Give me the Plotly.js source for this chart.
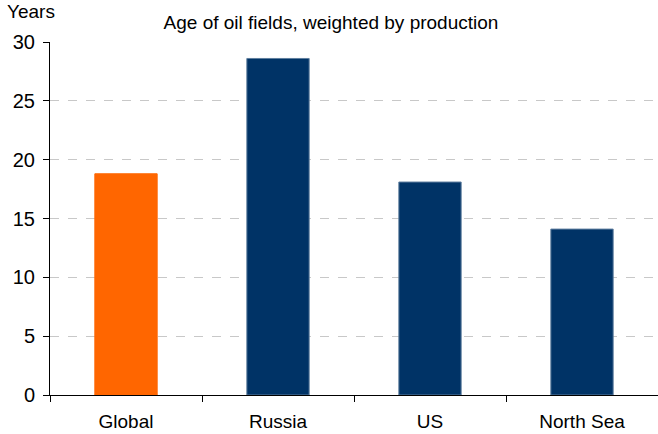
<!DOCTYPE html>
<html>
<head>
<meta charset="utf-8">
<script src="https://cdn.plot.ly/plotly-3.0.1.min.js"></script>
<style>
  html, body { margin: 0; padding: 0; background: #fff; }
  #chart { width: 658px; height: 434px; }
</style>
</head>
<body>
<div id="chart"></div>
<script>
// Production-weighted age of oil fields by region (years)
const regions = ["Global", "Russia", "US", "North Sea"];
const ageYears = [18.8, 28.6, 18.1, 14.1];
const barColors = ["#FF6600", "#003366", "#003366", "#003366"];
const edgeColors = ["#FF6600", "#5F7F9F", "#5F7F9F", "#5F7F9F"];
const yTicks = [0, 5, 10, 15, 20, 25, 30];

const font = "Liberation Sans, Arial, sans-serif";

const trace = {
  type: "bar",
  x: regions,
  y: ageYears,
  width: 0.41,
  marker: { color: barColors, line: { color: edgeColors, width: 1 } },
  hoverinfo: "x+y"
};

const layout = {
  width: 658,
  height: 434,
  margin: { l: 50, r: 0, t: 42, b: 39 },
  paper_bgcolor: "#fff",
  plot_bgcolor: "#fff",
  showlegend: false,
  font: { family: font, size: 19, color: "#000" },
  title: {
    text: "Age of oil fields, weighted by production",
    font: { family: font, size: 19, color: "#000" },
    x: 0.503, xanchor: "center",
    y: 0.948, yanchor: "middle"
  },
  xaxis: {
    type: "category",
    showline: true,
    linecolor: "#000",
    linewidth: 1,
    ticks: "outside",
    tickson: "boundaries",
    ticklen: 6,
    tickcolor: "#000",
    showgrid: false,
    tickfont: { family: font, size: 19, color: "#000" },
    ticklabelstandoff: 9
  },
  yaxis: {
    range: [0, 30],
    tickvals: yTicks,
    showline: true,
    linecolor: "#000",
    linewidth: 1,
    ticks: "outside",
    ticklen: 6,
    tickcolor: "#000",
    showgrid: true,
    gridcolor: "#c8c8c8",
    griddash: "dash",
    gridwidth: 1,
    zeroline: false,
    tickfont: { family: font, size: 20, color: "#000" },
    ticklabelstandoff: 4
  },
  annotations: [{
    text: "Years",
    xref: "paper", yref: "paper",
    x: -0.074, y: 1.085,
    xanchor: "left", yanchor: "middle",
    showarrow: false,
    font: { family: font, size: 19, color: "#000" }
  }],
  bargap: 0.59
};

Plotly.newPlot("chart", [trace], layout, { displayModeBar: false, staticPlot: true });
</script>
</body>
</html>
